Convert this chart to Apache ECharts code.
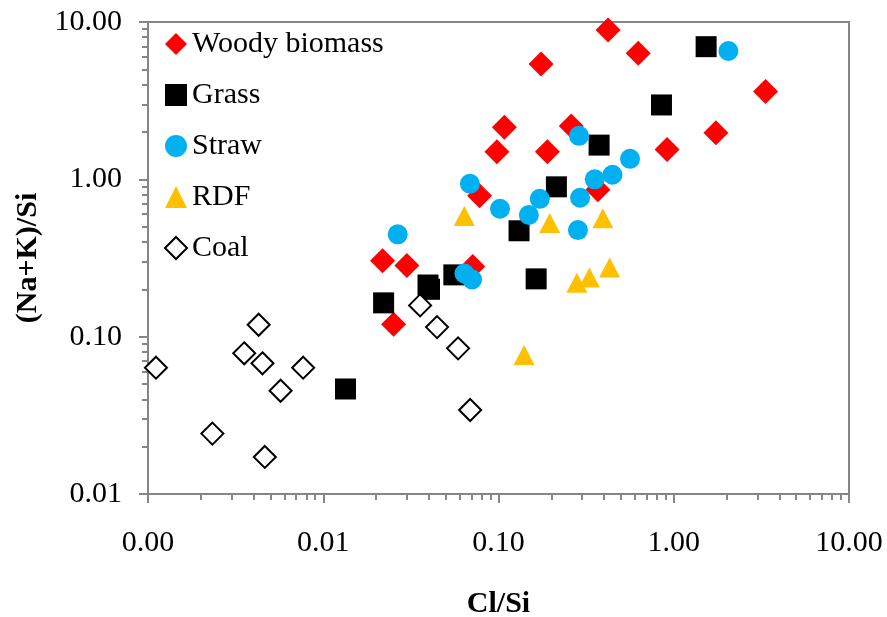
<!DOCTYPE html>
<html>
<head>
<meta charset="utf-8">
<script src="https://cdn.jsdelivr.net/npm/echarts@6/dist/echarts.min.js"></script>
<style>
	html, body { margin: 0; padding: 0; background: #fff; }
	#chart { width: 887px; height: 617px; }
</style>
</head>
<body>
<div id="chart"></div>
<script>
	// Cl/Si (x) and (Na+K)/Si (y)
	const woodyX = [0.422, 0.627, 0.175, 3.34, 0.108, 0.260, 0.098, 0.190, 1.74, 0.916, 0.078, 0.369, 0.0218, 0.030, 0.0713, 0.0252]
	const woodyY = [8.90, 6.33, 5.41, 3.61, 2.14, 2.18, 1.50, 1.50, 1.98, 1.55, 0.787, 0.859, 0.304, 0.283, 0.279, 0.120]
	const grassX = [1.53, 0.851, 0.375, 0.214, 0.131, 0.0556, 0.0396, 0.0404, 0.164, 0.0221, 0.0134]
	const grassY = [6.97, 2.97, 1.65, 0.896, 0.471, 0.247, 0.213, 0.200, 0.233, 0.164, 0.0465]
	const strawX = [2.05, 0.288, 0.563, 0.447, 0.354, 0.0687, 0.292, 0.172, 0.102, 0.149, 0.284, 0.0266, 0.0639, 0.0707]
	const strawY = [6.54, 1.89, 1.35, 1.07, 1.00, 0.938, 0.764, 0.752, 0.650, 0.593, 0.476, 0.447, 0.252, 0.231]
	const rdfX = [0.0638, 0.196, 0.394, 0.431, 0.330, 0.280, 0.140]
	const rdfY = [0.585, 0.528, 0.565, 0.275, 0.238, 0.220, 0.0765]
	const coalX = [0.00111, 0.00428, 0.00354, 0.00450, 0.00768, 0.00571, 0.00233, 0.00464, 0.0357, 0.0446, 0.0588, 0.0689]
	const coalY = [0.0635, 0.119, 0.0784, 0.0677, 0.0635, 0.0453, 0.0242, 0.0172, 0.158, 0.115, 0.0843, 0.0342]

	// axis ranges (decades) and the 2..9 minor ticks between them
	const xDecades = [-3, -2, -1, 0, 1]
	const yDecades = [-2, -1, 0, 1]
	const minorSteps = [2, 3, 4, 5, 6, 7, 8, 9]

	const minorTicks = (decades) => {
		let out = []
		for (let i = 0; i < decades.length - 1; i++) {
			minorSteps.forEach(m => out.push(decades[i] + Math.log10(m)))
		}
		return out
	}

	const pairs = (xs, ys) => xs.map((x, i) => [x, ys[i]])

	const font = "'Liberation Serif', 'Times New Roman', serif"
	const gray = '#868686'

	const chart = echarts.init(document.getElementById('chart'))

	const option = {
		animation: false,
		textStyle: { fontFamily: font },
		grid: {
			left: 148,
			right: 38,
			top: 22,
			bottom: 123,
			outerBoundsMode: 'none',
			show: true,
			borderColor: gray,
			borderWidth: 2
		},
		legend: {
			orient: 'vertical',
			left: 159,
			top: 24,
			itemWidth: 22,
			itemHeight: 22,
			itemGap: 21,
			textStyle: { fontFamily: font, fontSize: 30, color: '#000' },
			data: ['Woody biomass', 'Grass', 'Straw', 'RDF', 'Coal']
		},
		xAxis: [{
			type: 'log',
			logBase: 10,
			min: 0.001,
			max: 10,
			name: 'Cl/Si',
			nameLocation: 'middle',
			nameGap: 95,
			nameTextStyle: { fontFamily: font, fontSize: 30, fontWeight: 'bold', color: '#000' },
			axisLine: { onZero: false, lineStyle: { color: gray, width: 2 } },
			axisTick: { inside: false, length: 9, lineStyle: { color: gray, width: 2 } },
			axisLabel: {
				margin: 34,
				fontFamily: font,
				fontSize: 30,
				color: '#000',
				formatter: v => v.toFixed(2)
			},
			splitLine: { show: false }
		}, {
			// minor ticks only
			type: 'value',
			position: 'bottom',
			min: -3,
			max: 1,
			axisLine: { show: false, onZero: false },
			axisLabel: { show: false },
			axisTick: { length: 6, customValues: minorTicks(xDecades), lineStyle: { color: gray, width: 2 } },
			splitLine: { show: false }
		}],
		yAxis: [{
			type: 'log',
			logBase: 10,
			min: 0.01,
			max: 10,
			name: '(Na+K)/Si',
			nameLocation: 'middle',
			nameRotate: 90,
			nameGap: 105,
			nameTextStyle: { fontFamily: font, fontSize: 30, fontWeight: 'bold', color: '#000' },
			axisLine: { onZero: false, lineStyle: { color: gray, width: 2 } },
			axisTick: { inside: false, length: 9, lineStyle: { color: gray, width: 2 } },
			axisLabel: {
				margin: 26,
				fontFamily: font,
				fontSize: 30,
				color: '#000',
				formatter: v => v.toFixed(2)
			},
			splitLine: { show: false }
		}, {
			type: 'value',
			position: 'left',
			min: -2,
			max: 1,
			axisLine: { show: false, onZero: false },
			axisLabel: { show: false },
			axisTick: { length: 6, customValues: minorTicks(yDecades), lineStyle: { color: gray, width: 2 } },
			splitLine: { show: false }
		}],
		series: [{
			name: 'Woody biomass',
			type: 'scatter',
			symbol: 'diamond',
			symbolSize: 25,
			itemStyle: { color: '#FF0000', opacity: 1 },
			data: pairs(woodyX, woodyY)
		}, {
			name: 'Grass',
			type: 'scatter',
			symbol: 'rect',
			symbolSize: 21,
			itemStyle: { color: '#000000', opacity: 1 },
			data: pairs(grassX, grassY)
		}, {
			name: 'Straw',
			type: 'scatter',
			symbol: 'circle',
			symbolSize: 20,
			itemStyle: { color: '#00B0F0', opacity: 1 },
			data: pairs(strawX, strawY)
		}, {
			name: 'RDF',
			type: 'scatter',
			symbol: 'triangle',
			symbolSize: [21, 20],
			itemStyle: { color: '#FFC000', opacity: 1 },
			data: pairs(rdfX, rdfY)
		}, {
			name: 'Coal',
			type: 'scatter',
			symbol: 'diamond',
			symbolSize: 22,
			itemStyle: { color: '#FFFFFF', borderColor: '#000000', borderWidth: 2, opacity: 1 },
			data: pairs(coalX, coalY)
		}]
	}

	chart.setOption(option)
	window.onresize = function() {
		chart.resize()
	}
</script>
</body>
</html>
